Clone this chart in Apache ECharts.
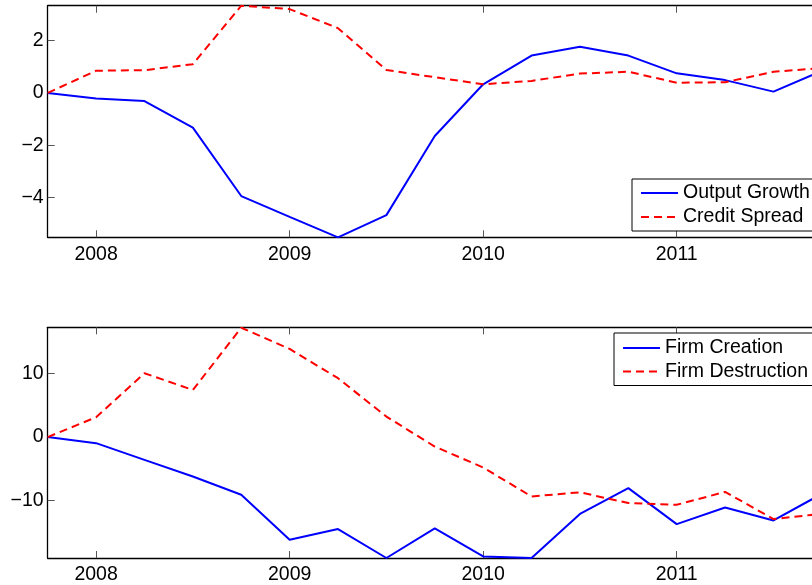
<!DOCTYPE html>
<html>
<head>
<meta charset="utf-8">
<script src="https://cdn.jsdelivr.net/npm/echarts@6/dist/echarts.min.js"></script>
<style>
  html, body { margin: 0; padding: 0; background: #fff; }
  #chart { width: 812px; height: 585px; }
</style>
</head>
<body>
<div id="chart"></div>
<script>
// Quarterly dates as decimal years (2007Q4 .. 2011Q4)
const quarters = [2007.75, 2008.0, 2008.25, 2008.5, 2008.75, 2009.0, 2009.25, 2009.5, 2009.75,
                  2010.0, 2010.25, 2010.5, 2010.75, 2011.0, 2011.25, 2011.5, 2011.75];

// Upper panel: cumulative changes
const outputGrowth = [0, -0.21, -0.31, -1.33, -3.95, -4.75, -5.53, -4.68, -1.65,
                      0.33, 1.43, 1.77, 1.43, 0.75, 0.49, 0.05, 0.84];
const creditSpread = [0, 0.85, 0.87, 1.10, 3.34, 3.21, 2.48, 0.88, 0.60,
                      0.33, 0.46, 0.74, 0.81, 0.39, 0.41, 0.81, 0.95];

// Lower panel: cumulative changes
const firmCreation = [0, -0.96, -3.59, -6.22, -9.10, -16.19, -14.50, -19.07, -14.41,
                      -18.82, -19.07, -12.13, -8.05, -13.72, -11.10, -13.15, -8.95];
const firmDestruction = [0, 3.13, 10.06, 7.43, 17.24, 13.90, 9.28, 3.23, -1.50,
                         -4.80, -9.37, -8.71, -10.41, -10.68, -8.65, -12.93, -12.10];

const yearTicks = [2008, 2009, 2010, 2011];
const upperTicks = [-4, -2, 0, 2];
const lowerTicks = [-10, 0, 10];

// Visible date window (the panel runs on past the right edge of the page)
const X_MIN = 2007.75;
const X_MAX = 2011.699;

const FONT = '"Liberation Sans", Arial, Helvetica, sans-serif';
const FS = 19.5;

function pairs(xs, ys) { return xs.map((x, i) => [x, ys[i]]); }
function minusSign(v) { return String(v).replace('-', '\u2212'); }

const tickStyle = { show: true, inside: true, length: 7, lineStyle: { color: '#555', width: 1 } };
const axisLine = { show: true, onZero: false, lineStyle: { color: '#000', width: 1.3 } };

function xAxes(gridIndex) {
  return [
    {
      type: 'value', gridIndex, position: 'bottom', min: X_MIN, max: X_MAX,
      axisLine, splitLine: { show: false },
      axisTick: Object.assign({ customValues: yearTicks }, tickStyle),
      axisLabel: { customValues: yearTicks, margin: 7, color: '#000', fontFamily: FONT, fontSize: FS,
                   formatter: v => String(v) }
    },
    {
      type: 'value', gridIndex, position: 'top', min: X_MIN, max: X_MAX,
      axisLine, splitLine: { show: false },
      axisTick: Object.assign({ customValues: yearTicks }, tickStyle),
      axisLabel: { show: false }
    }
  ];
}

function yAxis(gridIndex, min, max, ticks) {
  return {
    type: 'value', gridIndex, min, max,
    axisLine, splitLine: { show: false },
    axisTick: Object.assign({ customValues: ticks }, tickStyle),
    axisLabel: { customValues: ticks, margin: 4, color: '#000', fontFamily: FONT, fontSize: FS,
                 formatter: minusSign }
  };
}

function solid(name, xi, yi, data) {
  return { name, type: 'line', xAxisIndex: xi, yAxisIndex: yi, data, symbol: 'none', clip: true,
           lineStyle: { color: '#0000ff', width: 2 }, itemStyle: { color: '#0000ff' } };
}
function dashed(name, xi, yi, data) {
  return { name, type: 'line', xAxisIndex: xi, yAxisIndex: yi, data, symbol: 'none', clip: true,
           lineStyle: { color: '#ff0000', width: 2, type: [8, 5] }, itemStyle: { color: '#ff0000' } };
}

// Tiny item height keeps the legend key a plain line sample
const legendBase = {
  orient: 'vertical', itemWidth: 37, itemHeight: 2,
  backgroundColor: '#fff', borderColor: '#000', borderWidth: 1, borderRadius: 0,
  textStyle: { color: '#000', fontFamily: FONT, fontSize: FS, lineHeight: 20 },
  selectedMode: false
};

const chart = echarts.init(document.getElementById('chart'), null, { renderer: 'canvas' });
chart.setOption({
  animation: false,
  backgroundColor: '#fff',
  grid: [
    { left: 47.7, top: 5.7, right: 0, height: 231.6 },
    { left: 47.7, top: 327.3, right: 0, height: 231 }
  ],
  xAxis: [...xAxes(0), ...xAxes(1)],
  yAxis: [
    yAxis(0, -5.53, 3.34, upperTicks),
    yAxis(1, -19.07, 17.31, lowerTicks)
  ],
  legend: [
    Object.assign({}, legendBase, { left: 632, top: 179, padding: [4, 40, 4, 8], itemGap: 4,
                                    data: ['Output Growth', 'Credit Spread'] }),
    Object.assign({}, legendBase, { left: 614, top: 333, padding: [5, 40, 4, 8], itemGap: 3.5,
                                    data: ['Firm Creation', 'Firm Destruction'] })
  ],
  series: [
    solid('Output Growth', 0, 0, pairs(quarters, outputGrowth)),
    dashed('Credit Spread', 0, 0, pairs(quarters, creditSpread)),
    solid('Firm Creation', 2, 1, pairs(quarters, firmCreation)),
    dashed('Firm Destruction', 2, 1, pairs(quarters, firmDestruction))
  ]
});
</script>
</body>
</html>
